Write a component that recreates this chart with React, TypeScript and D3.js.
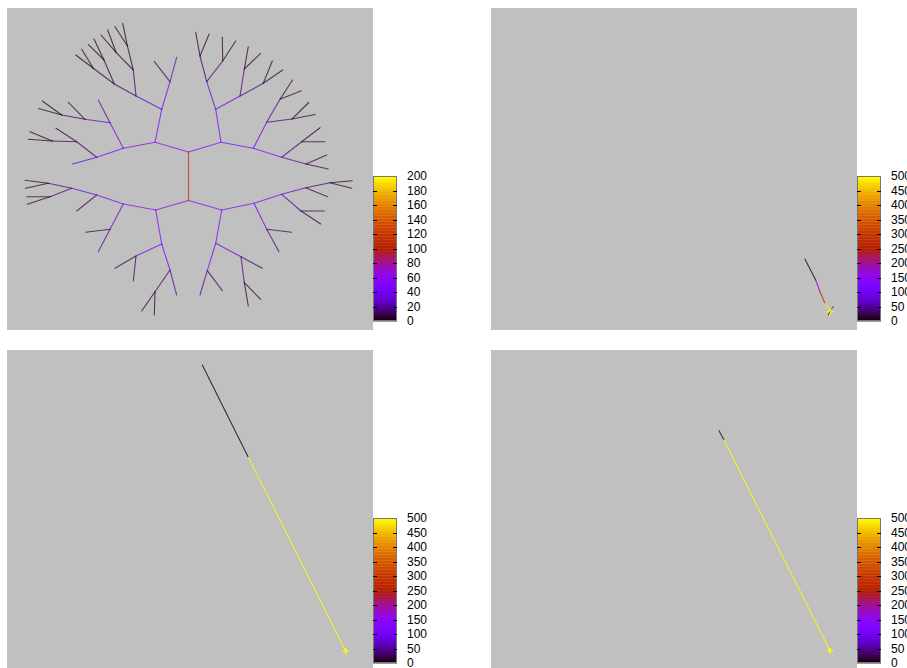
import React, { useEffect, useRef } from 'react'
import * as d3 from 'd3'

// tree frame: [id, parent, x, y, value]
const treeNodes: [string, string | null, number, number, number][] = [
  ['Tb', null, -0.15, -3.15, 0],
  ['T', 'Tb', -0.15, 1.7, 110],
  // top-left
  ['A', 'T', -3.5, 2.67, 56],
  ['B', 'A', -2.83, 5.97, 50],
  ['S', 'B', -2.0, 8.73, 40],
  ['s1', 'S', -3.57, 10.73, 12],
  ['s2', 'S', -1.33, 11.17, 28],
  ['P', 'B', -5.4, 7.3, 30],
  ['Q1', 'P', -5.67, 9.9, 12],
  ['R1', 'Q1', -6.27, 12.33, 6],
  ['r1a', 'R1', -6.73, 14.57, 3],
  ['r1b', 'R1', -7.5, 14.23, 3],
  ['R2', 'Q1', -7.4, 11.67, 6],
  ['r2a', 'R2', -8.23, 13.9, 3],
  ['r2b', 'R2', -8.9, 13.4, 3],
  ['Q2', 'P', -7.57, 8.5, 12],
  ['R3', 'Q2', -8.6, 10.9, 6],
  ['r3a', 'R3', -9.6, 13.0, 3],
  ['r3b', 'R3', -10.17, 12.47, 3],
  ['R4', 'Q2', -9.67, 10.07, 6],
  ['r4a', 'R4', -10.83, 11.97, 3],
  ['r4b', 'R4', -11.43, 11.4, 3],
  ['C', 'A', -6.67, 2.07, 52],
  ['C1', 'C', -8.0, 4.63, 40],
  ['c1', 'C1', -9.17, 6.9, 22],
  ['C2', 'C1', -10.5, 4.97, 25],
  ['c2', 'C2', -12.17, 6.67, 8],
  ['C3', 'C2', -12.83, 5.4, 10],
  ['c3a', 'C3', -14.77, 6.8, 4],
  ['c3b', 'C3', -15.15, 6.05, 4],
  ['D', 'C', -9.33, 1.17, 45],
  ['d0', 'D', -11.73, 0.5, 30],
  ['D1', 'D', -11.33, 2.73, 15],
  ['d1', 'D1', -13.4, 4.07, 6],
  ['D2', 'D1', -13.77, 2.8, 8],
  ['d2a', 'D2', -16.0, 3.73, 4],
  ['d2b', 'D2', -16.17, 2.97, 4],
  // top-right
  ['A_', 'T', 3.1, 2.67, 56],
  ['B_', 'A_', 2.57, 5.97, 50],
  ['B1_', 'B_', 1.67, 8.73, 30],
  ['B1a_', 'B1_', 1.0, 11.3, 12],
  ['b1a1', 'B1a_', 0.57, 13.67, 4],
  ['b1a2', 'B1a_', 1.9, 13.47, 4],
  ['B1b_', 'B1_', 3.27, 10.8, 12],
  ['b1b1', 'B1b_', 3.23, 13.17, 4],
  ['b1b2', 'B1b_', 4.57, 12.8, 4],
  ['B2_', 'B_', 5.0, 7.3, 40],
  ['B2a_', 'B2_', 5.43, 10.0, 15],
  ['b2a1', 'B2a_', 5.83, 12.23, 5],
  ['b2a2', 'B2a_', 7.07, 11.57, 5],
  ['B2b_', 'B2_', 7.33, 8.57, 15],
  ['b2b1', 'B2b_', 8.23, 10.8, 5],
  ['b2b2', 'B2b_', 9.27, 9.9, 5],
  ['C_', 'A_', 6.33, 2.07, 50],
  ['C1_', 'C_', 7.67, 4.67, 40],
  ['C1a_', 'C1_', 9.0, 6.97, 20],
  ['c1a1', 'C1a_', 10.25, 8.9, 6],
  ['c1a2', 'C1a_', 11.13, 7.83, 6],
  ['C1b_', 'C1_', 10.2, 5.0, 15],
  ['c1b1', 'C1b_', 11.87, 6.65, 5],
  ['c1b2', 'C1b_', 12.5, 5.45, 5],
  ['D_', 'C_', 9.17, 1.17, 45],
  ['D1_', 'D_', 11.17, 2.73, 18],
  ['d1a', 'D1_', 13.0, 4.13, 6],
  ['d1b', 'D1_', 13.5, 2.73, 6],
  ['E_', 'D_', 11.6, 0.5, 25],
  ['e1', 'E_', 13.67, 1.4, 8],
  ['e2', 'E_', 13.83, 0.0, 8],
  // bottom-left
  ['A2', 'Tb', -3.43, -4.1, 56],
  ['F', 'A2', -6.67, -3.5, 52],
  ['G', 'F', -9.33, -2.6, 45],
  ['g0', 'G', -11.33, -4.2, 12],
  ['H', 'G', -11.83, -1.93, 35],
  ['H1', 'H', -14.17, -1.43, 15],
  ['h1a', 'H1', -16.5, -1.13, 5],
  ['h1b', 'H1', -16.45, -1.93, 5],
  ['H2', 'H', -14.0, -2.77, 15],
  ['h2a', 'H2', -16.33, -2.77, 5],
  ['h2b', 'H2', -16.27, -3.53, 5],
  ['F1', 'F', -8.0, -6.03, 35],
  ['f1a', 'F1', -10.43, -6.33, 8],
  ['f1b', 'F1', -9.17, -8.27, 20],
  ['I', 'A2', -2.83, -7.5, 52],
  ['I1', 'I', -5.4, -8.7, 40],
  ['i1a', 'I1', -7.5, -9.93, 10],
  ['i1b', 'I1', -5.67, -11.2, 10],
  ['J', 'I', -2.0, -10.1, 45],
  ['j0', 'J', -1.33, -12.6, 25],
  ['J1', 'J', -3.5, -12.27, 12],
  ['j1a', 'J1', -4.83, -14.2, 4],
  ['j1b', 'J1', -3.57, -14.6, 4],
  // bottom-right
  ['A2_', 'Tb', 3.17, -4.1, 56],
  ['F_', 'A2_', 6.4, -3.43, 52],
  ['G_', 'F_', 9.17, -2.53, 45],
  ['H_', 'G_', 11.57, -1.87, 30],
  ['H1_', 'H_', 14.0, -1.37, 12],
  ['h1a_', 'H1_', 16.23, -1.17, 4],
  ['h1b_', 'H1_', 16.17, -1.93, 4],
  ['h0_', 'H_', 13.77, -2.77, 8],
  ['G1_', 'G_', 11.1, -4.2, 20],
  ['g1a', 'G1_', 13.43, -4.2, 6],
  ['g1b', 'G1_', 13.07, -5.5, 6],
  ['F1_', 'F_', 7.67, -6.03, 38],
  ['f1a_', 'F1_', 10.17, -6.33, 10],
  ['f1b_', 'F1_', 8.9, -8.27, 15],
  ['I_', 'A2_', 2.57, -7.43, 52],
  ['J_', 'I_', 1.73, -10.17, 40],
  ['j0a', 'J_', 1.0, -12.6, 20],
  ['j0b', 'J_', 3.23, -12.17, 10],
  ['I1_', 'I_', 5.1, -8.77, 38],
  ['i1_', 'I1_', 7.23, -9.93, 10],
  ['I2_', 'I1_', 5.43, -11.37, 15],
  ['i2a', 'I2_', 5.83, -13.7, 5],
  ['i2b', 'I2_', 7.07, -13.03, 5],
]

// later frames: [x, y, value of segment ending here]
const frame2Path: [number, number, number][] = [
  [13.1, -9.03, 0],
  [14.17, -11.1, 10],
  [14.6, -12.27, 150],
  [15.1, -13.43, 290],
  [15.6, -14.27, 480],
]
const frame2Tips: [number, number, number, number, number][] = [
  [15.6, -14.27, 15.42, -14.6, 5],
  [15.75, -14.0, 15.95, -13.75, 5],
]
const frame3Path: [number, number, number][] = [
  [1.23, 14.6, 0],
  [5.83, 5.37, 8],
  [15.57, -14.0, 500],
]
const frame4Path: [number, number, number][] = [
  [4.5, 8.03, 0],
  [5.0, 7.1, 8],
  [15.6, -13.97, 500],
]

const cbMax = [200, 500, 500, 500]
const cbStep = [20, 50, 50, 50]

const PANEL_W = 366
const PANEL_H = 322
const panels = [
  { x: 7, y: 8 },
  { x: 491, y: 8 },
  { x: 7, y: 350 },
  { x: 491, y: 350 },
]

// gnuplot default rgbformulae 7,5,15
function palette(t: number) {
  t = Math.max(0, Math.min(1, t))
  const r = Math.sqrt(t)
  const g = t * t * t
  const b = Math.max(0, Math.sin(2 * Math.PI * t))
  return d3.rgb(r * 255, g * 255, b * 255).toString()
}

export default function App() {
  const ref = useRef<SVGSVGElement>(null)

  useEffect(() => {
    const svg = d3.select(ref.current)
    svg.selectAll('*').remove()
    svg.append('rect').attr('width', 907).attr('height', 668).attr('fill', '#ffffff')

    panels.forEach((p, i) => {
      const g = svg.append('g')
      g.append('rect')
        .attr('x', p.x)
        .attr('y', p.y)
        .attr('width', PANEL_W)
        .attr('height', PANEL_H)
        .attr('fill', '#c0c0c0')

      const x = d3.scaleLinear().domain([-18.3, 18.3]).range([p.x, p.x + PANEL_W])
      const y = d3.scaleLinear().domain([-16.1, 16.1]).range([p.y + PANEL_H, p.y])
      const color = (v: number) => palette(v / cbMax[i])

      const seg = (x1: number, y1: number, x2: number, y2: number, v: number, w = 1, op = 0.72) => {
        g.append('line')
          .attr('x1', x(x1))
          .attr('y1', y(y1))
          .attr('x2', x(x2))
          .attr('y2', y(y2))
          .attr('stroke', color(v))
          .attr('stroke-width', w)
          .attr('stroke-opacity', op)
          .attr('stroke-linecap', 'round')
      }

      if (i === 0) {
        const byId = new Map(treeNodes.map(n => [n[0], n]))
        treeNodes
          .filter(n => n[1])
          .sort((a, b) => a[4] - b[4])
          .forEach(n => {
            const par = byId.get(n[1] as string)!
            seg(par[2], par[3], n[2], n[3], n[4], 1.1)
          })
      } else {
        const path = i === 1 ? frame2Path : i === 2 ? frame3Path : frame4Path
        for (let k = 1; k < path.length; k++) {
          seg(path[k - 1][0], path[k - 1][1], path[k][0], path[k][1], path[k][2], 1.1, 0.8)
        }
        const end = path[path.length - 1]
        // collapsed branches at the tip
        seg(end[0] - 0.25, end[1], end[0] + 0.25, end[1], 500, 1.6, 0.9)
        seg(end[0], end[1] - 0.25, end[0], end[1] + 0.25, 500, 1.6, 0.9)
        if (i === 1) {
          frame2Tips.forEach(t => seg(t[0], t[1], t[2], t[3], t[4]))
        }
      }

      // colour box
      const cbX = p.x + PANEL_W
      const cbTop = p.y + 168
      const cbH = 145
      const cbW = 24
      const cb = d3.scaleLinear().domain([0, cbMax[i]]).range([cbTop + cbH, cbTop])
      const n = 48
      for (let k = 0; k < n; k++) {
        const v0 = (k / n) * cbMax[i]
        const v1 = ((k + 1) / n) * cbMax[i]
        g.append('rect')
          .attr('x', cbX)
          .attr('y', cb(v1))
          .attr('width', cbW)
          .attr('height', cb(v0) - cb(v1) + 0.4)
          .attr('fill', color((v0 + v1) / 2))
      }
      g.append('rect')
        .attr('x', cbX + 0.5)
        .attr('y', cbTop + 0.5)
        .attr('width', cbW - 1)
        .attr('height', cbH - 1)
        .attr('fill', 'none')
        .attr('stroke', '#777')
        .attr('stroke-width', 1)

      const ticks = d3.range(0, cbMax[i] + 1, cbStep[i])
      ticks.forEach(t => {
        if (t > 0 && t < cbMax[i]) {
          g.append('line')
            .attr('x1', cbX).attr('x2', cbX + 4)
            .attr('y1', Math.round(cb(t)) + 0.5).attr('y2', Math.round(cb(t)) + 0.5)
            .attr('stroke', '#000').attr('stroke-width', 1)
          g.append('line')
            .attr('x1', cbX + cbW - 4).attr('x2', cbX + cbW)
            .attr('y1', Math.round(cb(t)) + 0.5).attr('y2', Math.round(cb(t)) + 0.5)
            .attr('stroke', '#000').attr('stroke-width', 1)
        }
        g.append('text')
          .attr('x', cbX + cbW + 10)
          .attr('y', cb(t))
          .attr('dy', '0.35em')
          .attr('font-family', '"Liberation Sans", Arial, sans-serif')
          .attr('font-size', 12)
          .attr('fill', '#000')
          .text(t)
      })
    })
  }, [])

  return (
    <svg
      ref={ref}
      width={907}
      height={668}
      style={{ position: 'absolute', left: 0, top: 0, display: 'block' }}
    ></svg>
  )
}
